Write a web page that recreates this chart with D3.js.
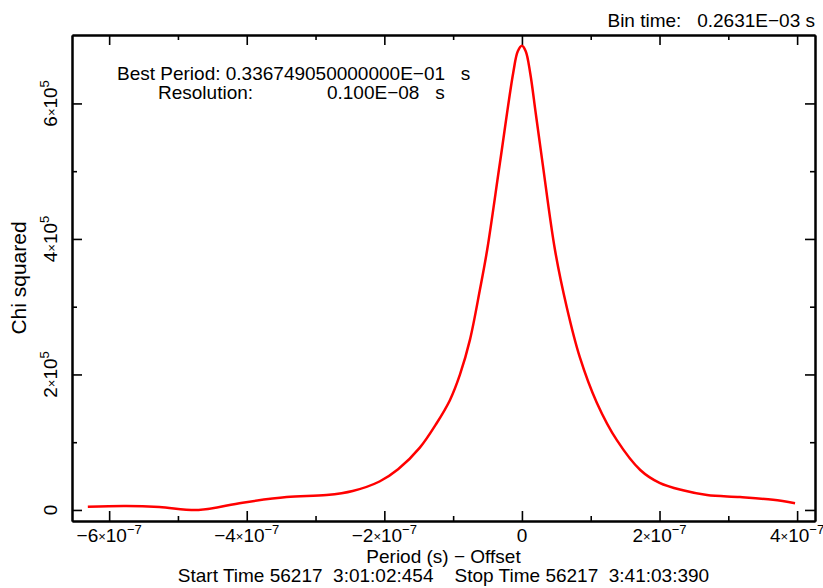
<!DOCTYPE html>
<html>
<head>
<meta charset="utf-8">
<script src="https://cdn.jsdelivr.net/npm/d3@7"></script>
<style>
  body { margin: 0; background: #fff; }
  svg { display: block; font-family: "Liberation Sans", Arial, Helvetica, sans-serif; }
  .axis path, .axis line { stroke: #000; }
  .axis path { stroke-width: 2; }
  .axis line { stroke-width: 1.6; }
</style>
</head>
<body>
<script>
// Period offset (s) vs chi squared
var periodOffset = [-6.31e-7, -5.75e-7, -5.27e-7, -4.70e-7, -4.06e-7, -3.42e-7, -2.84e-7, -2.46e-7,
    -2.07e-7, -1.80e-7, -1.484e-7, -1.24e-7, -1.047e-7, -0.90e-7, -0.756e-7, -0.611e-7,
    -0.505e-7, -0.32e-7, -0.127e-7, -0.06e-7, 0, 0.055e-7, 0.12e-7, 0.20e-7, 0.30e-7, 0.48e-7,
    0.65e-7, 0.84e-7, 1.09e-7, 1.38e-7, 1.72e-7, 2.0e-7, 2.34e-7, 2.69e-7, 3.17e-7,
    3.65e-7, 3.97e-7];
var chiSquared = [0.049e5, 0.059e5, 0.044e5, 0.0, 0.108e5, 0.19e5, 0.22e5, 0.28e5,
    0.42e5, 0.60e5, 0.92e5, 1.28e5, 1.62e5, 2.0e5, 2.51e5, 3.25e5,
    3.84e5, 5.12e5, 6.45e5, 6.77e5, 6.85e5, 6.77e5, 6.45e5, 5.86e5, 5.12e5, 3.84e5,
    3.0e5, 2.26e5, 1.58e5, 1.03e5, 0.59e5, 0.40e5, 0.29e5, 0.22e5, 0.19e5,
    0.15e5, 0.10e5];

var xMajor = [-6e-7, -4e-7, -2e-7, 0, 2e-7, 4e-7];
var xMinor = [-5e-7, -3e-7, -1e-7, 1e-7, 3e-7];
var yMajor = [0, 2e5, 4e5, 6e5];
var yMinor = [1e5, 3e5, 5e5];

var titleTop = "Bin time:   0.2631E\u221203 s";
var infoLines = ["Best Period: 0.336749050000000E\u221201   s",
                 "Resolution:              0.100E\u221208   s"];
var xTitle = "Period (s) \u2212 Offset";
var yTitle = "Chi squared";
var footer = "Start Time 56217  3:01:02:454    Stop Time 56217  3:41:03:390";

var W = 823, H = 588;
var margin = { left: 72, top: 35, right: 8, bottom: 67 };
var width = W - margin.left - margin.right,
    height = H - margin.top - margin.bottom;
var fs = 19;

var svg = d3.select("body").append("svg")
    .attr("width", W).attr("height", H);

var x = d3.scaleLinear().domain([-6.54e-7, 4.26e-7]).range([0, width]);
var y = d3.scaleLinear().domain([-0.163e5, 7.01e5]).range([height, 0]);

var g = svg.append("g")
    .attr("transform", "translate(" + margin.left + "," + margin.top + ")");

// label like  -6×10^-7
function sciLabel(text, v, exp) {
    if (v === 0) { text.text("0"); return; }
    var m = Math.round(v / Math.pow(10, exp));
    text.append("tspan").text((m < 0 ? "\u2212" : "") + Math.abs(m));
    text.append("tspan").attr("font-size", 13).attr("dy", -1).text("\u00d7");
    text.append("tspan").attr("dy", 1).text("10");
    text.append("tspan").attr("font-size", 13).attr("dy", -8)
        .text(exp < 0 ? "\u2212" + Math.abs(exp) : exp);
}

function addAxis(axisFn, scale, vals, size, tr) {
    return g.append("g").attr("class", "axis")
        .attr("transform", tr || null)
        .call(axisFn(scale).tickValues(vals).tickSize(-size).tickSizeOuter(0).tickFormat(""));
}

// frame + ticks, inward on all sides
addAxis(d3.axisBottom, x, xMajor, 10, "translate(0," + height + ")");
addAxis(d3.axisBottom, x, xMinor, 5, "translate(0," + height + ")");
addAxis(d3.axisTop, x, xMajor, 10);
addAxis(d3.axisTop, x, xMinor, 5);
addAxis(d3.axisLeft, y, yMajor, 10);
addAxis(d3.axisLeft, y, yMinor, 5);
addAxis(d3.axisRight, y, yMajor, 10, "translate(" + width + ",0)");
addAxis(d3.axisRight, y, yMinor, 5, "translate(" + width + ",0)");

// x tick labels
g.append("g").selectAll("text")
    .data(xMajor)
    .enter().append("text")
    .attr("x", d => x(d))
    .attr("y", height + 21)
    .attr("text-anchor", "middle")
    .attr("font-size", fs)
    .each(function (d) { sciLabel(d3.select(this), d, -7); });

// y tick labels, rotated
g.append("g").selectAll("text")
    .data(yMajor)
    .enter().append("text")
    .attr("transform", d => "translate(-15," + y(d) + ") rotate(-90)")
    .attr("text-anchor", "middle")
    .attr("font-size", fs)
    .each(function (d) { sciLabel(d3.select(this), d, 5); });

// curve
var pts = periodOffset.map((p, i) => [p, chiSquared[i]]);
var line = d3.line()
    .x(d => x(d[0]))
    .y(d => y(d[1]))
    .curve(d3.curveCatmullRom.alpha(0.5));

g.append("path")
    .datum(pts)
    .attr("fill", "none")
    .attr("stroke", "#ff0000")
    .attr("stroke-width", 2.5)
    .attr("d", line);

// texts
svg.append("text")
    .attr("x", 815).attr("y", 27)
    .attr("text-anchor", "end")
    .attr("font-size", fs)
    .style("white-space", "pre")
    .text(titleTop);

svg.append("g").selectAll("text")
    .data(infoLines)
    .enter().append("text")
    .attr("x", (d, i) => i == 0 ? 117 : 158)
    .attr("y", (d, i) => 80 + i * 19)
    .attr("font-size", fs)
    .style("white-space", "pre")
    .text(d => d);

svg.append("text")
    .attr("x", margin.left + width / 2).attr("y", 563)
    .attr("text-anchor", "middle")
    .attr("font-size", fs)
    .text(xTitle);

svg.append("text")
    .attr("transform", "translate(26," + (margin.top + height / 2) + ") rotate(-90)")
    .attr("text-anchor", "middle")
    .attr("font-size", 21)
    .text(yTitle);

svg.append("text")
    .attr("x", margin.left + width / 2).attr("y", 582)
    .attr("text-anchor", "middle")
    .attr("font-size", fs)
    .style("white-space", "pre")
    .text(footer);
</script>
</body>
</html>
